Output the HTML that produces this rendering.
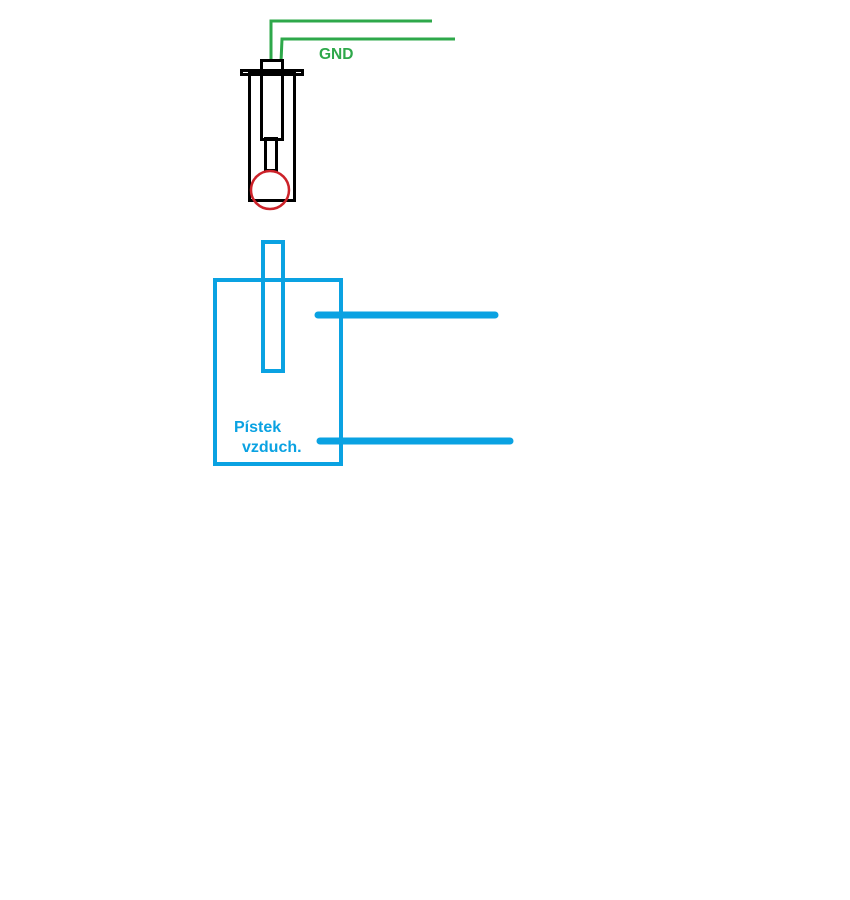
<!DOCTYPE html>
<html><head><style>body{margin:0;background:#fff}svg{display:block}</style></head><body>
<svg width="850" height="900" xmlns="http://www.w3.org/2000/svg">
<rect width="850" height="900" fill="#fff"/>
<g fill="none" stroke="#2ea84a" stroke-width="3">
<polyline points="271,62 271,21 432,21"/>
<polyline points="281,62 282,39 455,39"/>
</g>
<text x="319" y="59" font-family="Liberation Sans, sans-serif" font-weight="bold" font-size="15.5" fill="#2ea84a">GND</text>
<g fill="none" stroke="#000" stroke-width="3">
<rect x="249.5" y="72.5" width="45" height="128"/>
<rect x="241.5" y="70.5" width="61" height="4"/>
<rect x="261.5" y="60.5" width="21" height="79"/>
<rect x="265.5" y="138.5" width="11" height="32"/>
</g>
<circle cx="270" cy="190" r="19" fill="none" stroke="#cc2229" stroke-width="2.5"/>
<g fill="none" stroke="#0aa2e2" stroke-width="4">
<rect x="215" y="280" width="126" height="184"/>
<rect x="263" y="242" width="20" height="129"/>
</g>
<g stroke="#0aa2e2" stroke-width="7" stroke-linecap="round">
<line x1="318" y1="315" x2="495" y2="315"/>
<line x1="320" y1="441" x2="510" y2="441"/>
</g>
<g font-family="Liberation Sans, sans-serif" font-weight="bold" font-size="16" fill="#0aa2e2">
<text x="234" y="432">Pístek</text>
<text x="242" y="452">vzduch.</text>
</g>
</svg>
</body></html>
